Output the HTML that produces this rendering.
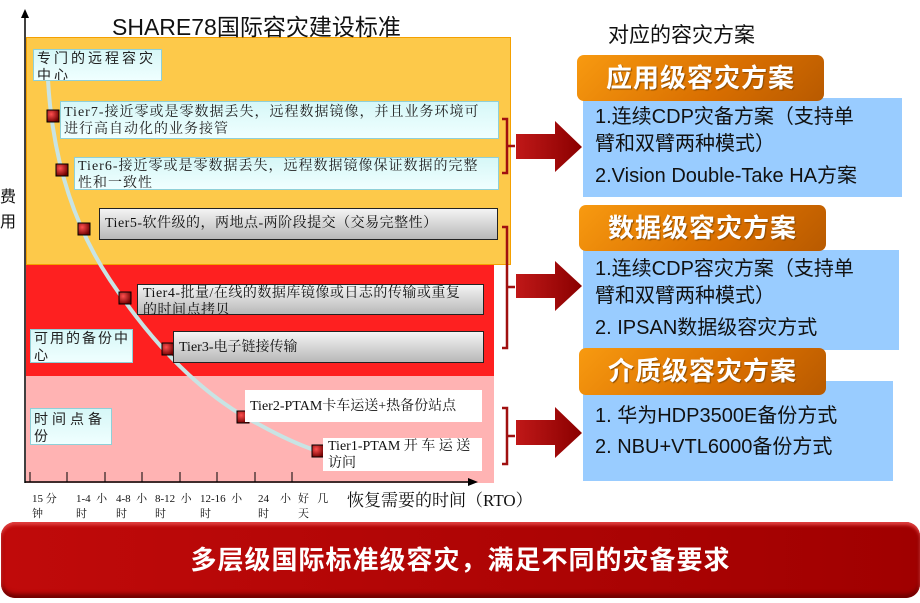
<!DOCTYPE html>
<html><head><meta charset="utf-8"><style>
*{margin:0;padding:0;box-sizing:border-box}
body{width:920px;height:603px;position:relative;background:#fff;overflow:hidden;font-family:"Liberation Sans","Noto Sans CJK SC",sans-serif}
.a{position:absolute;white-space:nowrap}
.serif{font-family:"Liberation Serif","Noto Serif CJK SC","Noto Sans CJK SC",serif}
.cy{background:linear-gradient(#d6f7f7,#f0ffff);border:1px solid #8fd0d8;font-size:14px;line-height:17px;color:#222;padding:0 3px;letter-spacing:1px;overflow:hidden}
.gr{background:linear-gradient(#f4f4f4,#b8b8b8);border:1px solid #222;font-size:14px;line-height:17px;color:#111;padding:2px 5px;overflow:hidden}
.wh{background:#fff;font-size:14px;line-height:17px;color:#111;padding:2px 5px;overflow:hidden}
.hd{background:linear-gradient(135deg,#f89a10,#d86e00 60%,#b85a00);border-radius:7px;color:#fff;font-size:26px;font-weight:bold;line-height:46px;text-align:center;letter-spacing:1px;text-shadow:1px 1px 1px #8a4a00}
.bl{background:#99ccff;font-size:20px;line-height:27px;color:#111;padding:6px 12px}
.t{font-size:11px;line-height:15px;color:#111}
</style></head><body>
<div class="a" style="left:26px;top:37px;width:485px;height:228px;background:#fdc94a;border:1px solid #f4a000"></div>
<div class="a" style="left:26px;top:265px;width:468px;height:111px;background:#fe2020"></div>
<div class="a" style="left:26px;top:376px;width:468px;height:107px;background:#ffb3b3"></div>
<div class="a" style="left:112px;top:8px;font-size:23px;color:#111">SHARE78国际容灾建设标准</div>
<div class="a" style="left:0px;top:185px;font-size:16px;line-height:25px;color:#111">费<br>用</div>
<svg class="a" style="left:0;top:0" width="920" height="603">
<line x1="25" y1="14" x2="25" y2="483" stroke="#000" stroke-width="1.5"/>
<polygon points="25,9 21,18 29,18" fill="#000"/>
<line x1="25" y1="482" x2="470" y2="482" stroke="#000" stroke-width="1.5"/>
<polygon points="478,482 468,478 468,486" fill="#000"/>
<g stroke="#000" stroke-width="1">
<line x1="30" y1="472" x2="30" y2="482"/><line x1="67" y1="472" x2="67" y2="482"/><line x1="105" y1="472" x2="105" y2="482"/><line x1="142" y1="472" x2="142" y2="482"/><line x1="180" y1="472" x2="180" y2="482"/><line x1="217" y1="472" x2="217" y2="482"/><line x1="255" y1="472" x2="255" y2="482"/><line x1="292" y1="472" x2="292" y2="482"/></g>
<path d="M48,80 C52,150 70,220 110,280 C150,340 200,395 260,425 C300,447 330,458 370,462" fill="none" stroke="#c8e4e4" stroke-width="4"/>
<g fill="none" stroke="#a01010" stroke-width="2.5">
<path d="M502,119 h5 v54 h-5 M507,146 h8"/>
<path d="M502,227 h5 v121 h-5 M507,287 h8"/>
<path d="M502,408 h5 v56 h-5 M507,436 h8"/></g>
<defs><linearGradient id="ar" x1="0" x2="1"><stop offset="0" stop-color="#c01818"/><stop offset="1" stop-color="#8a0000"/></linearGradient>
<radialGradient id="bd" cx="0.35" cy="0.35" r="0.7"><stop offset="0" stop-color="#ff5050"/><stop offset="1" stop-color="#700000"/></radialGradient></defs>
<g fill="url(#ar)">
<polygon points="516,134 555,134 555,121 582,147 555,172 555,159 516,159"/>
<polygon points="516,274 555,274 555,261 582,286 555,311 555,298 516,298"/>
<polygon points="516,420 555,420 555,407 582,433 555,458 555,445 516,445"/></g>
<g stroke="#000" stroke-width="1" fill="url(#bd)">
<rect x="47" y="110" width="12" height="12"/><rect x="56" y="164" width="12" height="12"/><rect x="78" y="223" width="12" height="12"/><rect x="119" y="292" width="12" height="12"/><rect x="162" y="343" width="12" height="12"/><rect x="237" y="411" width="12" height="12"/><rect x="312" y="445" width="12" height="12"/></g>
</svg>
<div class="a cy" style="left:33px;top:49px;width:129px;height:32px;letter-spacing:3px">专门的远程容灾<br>中心</div>
<div class="a cy serif" style="left:60px;top:101px;width:439px;height:38px;padding-top:2px">Tier7-接近零或是零数据丢失，远程数据镜像，并且业务环境可<br>进行高自动化的业务接管</div>
<div class="a cy serif" style="left:74px;top:157px;width:425px;height:33px;padding-top:0">Tier6-接近零或是零数据丢失，远程数据镜像保证数据的完整<br>性和一致性</div>
<div class="a gr serif" style="left:99px;top:208px;width:399px;height:32px;padding-top:6px;letter-spacing:0.5px">Tier5-软件级的，两地点-两阶段提交（交易完整性）</div>
<div class="a gr serif" style="left:137px;top:284px;width:347px;height:31px;padding-top:0;letter-spacing:0.5px">Tier4-批量/在线的数据库镜像或日志的传输或重复<br>的时间点拷贝</div>
<div class="a gr serif" style="left:173px;top:331px;width:311px;height:32px;padding-top:7px">Tier3-电子链接传输</div>
<div class="a cy" style="left:30px;top:329px;width:103px;height:34px;letter-spacing:2px">可用的备份中<br>心</div>
<div class="a cy" style="left:30px;top:408px;width:82px;height:37px;padding-top:2px;letter-spacing:4px">时间点备<br>份</div>
<div class="a wh serif" style="left:245px;top:390px;width:237px;height:32px;padding-top:8px">Tier2-PTAM卡车运送+热备份站点</div>
<div class="a wh serif" style="left:323px;top:438px;width:159px;height:33px;padding-top:0">Tier1-PTAM 开 车 运 送<br>访问</div>
<div class="a t serif" style="left:32px;top:492px">15 分<br>钟</div>
<div class="a t serif" style="left:76px;top:492px">1-4 &nbsp;小<br>时</div>
<div class="a t serif" style="left:116px;top:492px">4-8 &nbsp;小<br>时</div>
<div class="a t serif" style="left:155px;top:492px">8-12 &nbsp;小<br>时</div>
<div class="a t serif" style="left:200px;top:492px">12-16 &nbsp;小<br>时</div>
<div class="a t serif" style="left:258px;top:492px">24 &nbsp; &nbsp;小<br>时</div>
<div class="a t serif" style="left:298px;top:492px">好 &nbsp; 几<br>天</div>
<div class="a serif" style="left:347px;top:486px;font-size:17px;color:#111">恢复需要的时间（RTO）</div>
<div class="a" style="left:608px;top:19px;font-size:21px;color:#111">对应的容灾方案</div>
<div class="a bl" style="left:583px;top:98px;width:319px;height:99px">1.连续CDP灾备方案（支持单<br>臂和双臂两种模式）<br><span style="line-height:36px">2.Vision Double-Take HA方案</span></div>
<div class="a hd" style="left:577px;top:55px;width:247px;height:46px">应用级容灾方案</div>
<div class="a bl" style="left:583px;top:250px;width:316px;height:100px">1.连续CDP容灾方案（支持单<br>臂和双臂两种模式）<br><span style="line-height:36px">2. IPSAN数据级容灾方式</span></div>
<div class="a hd" style="left:579px;top:205px;width:247px;height:46px">数据级容灾方案</div>
<div class="a bl" style="left:583px;top:381px;width:310px;height:100px;padding-top:20px;line-height:31px">1. 华为HDP3500E备份方式<br>2. NBU+VTL6000备份方式</div>
<div class="a hd" style="left:579px;top:348px;width:247px;height:47px">介质级容灾方案</div>
<div class="a" style="left:1px;top:522px;width:919px;height:76px;border-radius:14px;background:linear-gradient(90deg,#c00a0a,#a00000);box-shadow:inset 0 3px 3px #e04040,inset 0 -4px 4px #700000;color:#fff;font-size:26px;font-weight:bold;text-align:center;line-height:76px;letter-spacing:1px">多层级国际标准级容灾，满足不同的灾备要求</div>
</body></html>
